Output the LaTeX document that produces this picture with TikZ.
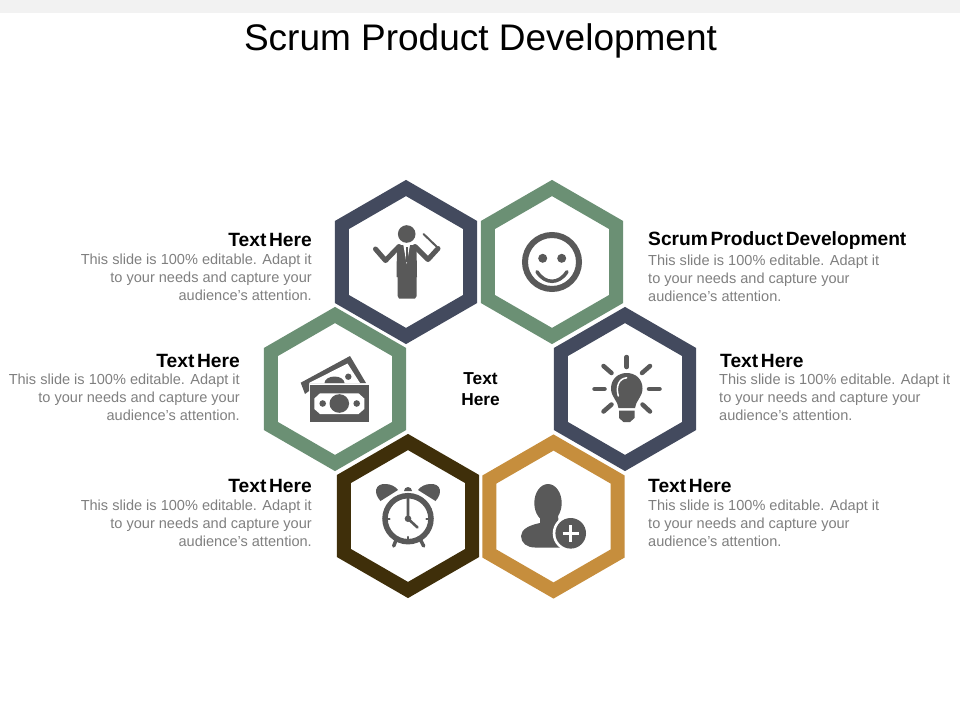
\documentclass[tikz,border=0pt]{standalone}
\usepackage{fontspec}
\setmainfont{Liberation Sans}
\newfontfamily\headfont[WordSpace=0.5]{Liberation Sans}
\usetikzlibrary{shapes.geometric}
\definecolor{navyring}{HTML}{434A5E}
\definecolor{greenring}{HTML}{6B9074}
\definecolor{brownring}{HTML}{3F2F0A}
\definecolor{orangering}{HTML}{C68E3D}
\definecolor{icongray}{HTML}{595959}
\definecolor{bodygray}{HTML}{7F7F7F}
\definecolor{bandgray}{HTML}{F2F2F2}
\tikzset{
  hexring/.style={regular polygon, regular polygon sides=6, shape border rotate=30, minimum size=148pt, inner sep=0pt, outer sep=0pt, line width=14pt, fill=white, draw=#1},
  headtext/.style={font=\headfont\bfseries\fontsize{19.2}{22}\selectfont, inner sep=0pt, text=black},
  bodytext/.style={font=\fontsize{14.55}{18}\selectfont, inner sep=0pt, text=bodygray},
  iconline/.style={draw=icongray, line cap=round, line join=round},
}
\begin{document}
\begin{tikzpicture}[x=1pt,y=-1pt]
\useasboundingbox (0,0) rectangle (960,720);
\fill[bandgray] (0,0) rectangle (960,13);

% Title
\node[font=\fontsize{37}{40}\selectfont, inner sep=0pt] (title) at (480.5,40.5) {Scrum Product Development};

% Hexagon rings
\node[hexring=navyring] (hexperson) at (406,262) {};
\node[hexring=greenring] (hexsmile) at (552,262) {};
\node[hexring=greenring] (hexmoney) at (335,389) {};
\node[hexring=navyring] (hexbulb) at (625,389) {};
\node[hexring=brownring] (hexclock) at (408,516) {};
\node[hexring=orangering] (hexuser) at (553.5,516.5) {};

% Centre label
\node[headtext, font=\bfseries\fontsize{17.3}{21}\selectfont, align=center] (centre) at (480.5,389.5) {Text\\Here};

% Left labels
\node[headtext, anchor=east] (headperson) at (312,239.5) {Text Here};
\node[bodytext, anchor=east, align=right] (bodyperson) at (312,277) {This slide is 100\% editable. Adapt it\\to your needs and capture your\\audience's attention.};
\node[headtext, anchor=east] (headmoney) at (240,360.5) {Text Here};
\node[bodytext, anchor=east, align=right] (bodymoney) at (240,397.5) {This slide is 100\% editable. Adapt it\\to your needs and capture your\\audience's attention.};
\node[headtext, anchor=east] (headclock) at (312,485.5) {Text Here};
\node[bodytext, anchor=east, align=right] (bodyclock) at (312,523) {This slide is 100\% editable. Adapt it\\to your needs and capture your\\audience's attention.};

% Right labels
\node[headtext, anchor=west] (headsmile) at (648,240.5) {Scrum Product Development};
\node[bodytext, anchor=west, align=left] (bodysmile) at (648,278) {This slide is 100\% editable. Adapt it\\to your needs and capture your\\audience's attention.};
\node[headtext, anchor=west] (headbulb) at (720,360.5) {Text Here};
\node[bodytext, anchor=west, align=left] (bodybulb) at (719,397.5) {This slide is 100\% editable. Adapt it\\to your needs and capture your\\audience's attention.};
\node[headtext, anchor=west] (headuser) at (648,485.5) {Text Here};
\node[bodytext, anchor=west, align=left] (bodyuser) at (648,523.5) {This slide is 100\% editable. Adapt it\\to your needs and capture your\\audience's attention.};

% Person with baton
\fill[icongray] (406.7,234) circle (8.8);
\draw[iconline, line width=5pt] (375.5,249) -- (385.5,260.5) -- (399,246.5);
\draw[iconline, line width=5pt] (438,248.5) -- (428,259.5) -- (415,246.5);
\fill[icongray] (397,245) -- (416.5,245) -- (417,277) -- (416.7,277) -- (416.7,296) -- (415,298.5) -- (399,298.5) -- (397.7,296) -- (397.7,277) -- (396.5,277) -- cycle;
\fill[white] (403.3,244.8) -- (410,244.8) -- (406.7,264) -- cycle;
\draw[icongray, line width=1.8pt] (406.7,247) -- (406.7,262);
\draw[iconline, line width=2pt] (423.5,234) -- (436.7,246.7);

% Smiley
\draw[icongray, line width=6pt] (552,262) circle (27);
\fill[icongray] (542.7,258.3) circle (4.5);
\fill[icongray] (561.7,258.3) circle (4.5);
\draw[iconline, line width=3.5pt] (537,271.7) .. controls (545,284.5) and (559,284.5) .. (567,271.7);

% Light bulb
\foreach \xa/\ya/\xb/\yb in {626.7/357/626.7/367, 603.5/366/611.5/373, 650/366/642/373, 594.5/389/604.5/389, 649/389/659.5/389, 603.5/411.5/611.5/404.5, 650/411.5/642.5/404.5}
  \draw[iconline, line width=4.5pt] (\xa,\ya) -- (\xb,\yb);
\fill[icongray] (618.5,408) .. controls (618,401) and (611,397) .. (611,388.5) .. controls (611,379) and (618,373) .. (626.7,373) .. controls (635.5,373) and (642.5,379) .. (642.5,388.5) .. controls (642.5,397) and (635.5,401) .. (635,408) -- cycle;
\draw[white, line width=1.5pt, line cap=round] (618.3,396) .. controls (615.5,386) and (619,378.5) .. (626.7,377.8);
\fill[icongray] (619,410.5) -- (634.5,410.5) -- (634.5,418) -- (630,422) -- (623.5,422) -- (619,418) -- cycle;

% Money
\fill[icongray] (300.7,382.7) -- (350,356) -- (366,383) -- (309,383) -- (309,391) -- (305,394) -- cycle;
\fill[white] (309,383) -- (347.5,363.5) -- (360,383) -- cycle;
\fill[icongray] (324.5,383) arc[start angle=180, end angle=360, x radius=10, y radius=6.5] -- cycle;
\fill[icongray] (348.3,376.7) circle (3.2);
\fill[icongray] (310,385) rectangle (369,421.7);
\fill[white] (320,393.3) -- (358.5,393.3) -- (364.3,398.5) -- (364.3,409) -- (358.5,414) -- (320,414) -- (314.3,409) -- (314.3,398.5) -- cycle;
\fill[icongray] (339.3,403.5) ellipse (9.8 and 9.3);
\fill[icongray] (322.7,403.5) circle (3.3);
\fill[icongray] (356.7,403.5) circle (3.3);

% Alarm clock
\fill[icongray] (380.5,501) .. controls (373,493) and (375,483.5) .. (385.5,484) .. controls (390.5,484) and (395.5,486.5) .. (398,490) -- cycle;
\fill[icongray] (435.5,501) .. controls (443,493) and (441,483.5) .. (430.5,484) .. controls (425.5,484) and (420.5,486.5) .. (418,490) -- cycle;
\fill[icongray] (404,491) arc[start angle=180, end angle=360, radius=4] -- cycle;
\draw[icongray, line width=5.5pt] (408,518.7) circle (23);
\draw[iconline, line width=3.5pt] (396.5,539) -- (393.7,546);
\draw[iconline, line width=3.5pt] (420,539) -- (423.7,546);
\draw[iconline, line width=2.6pt] (408,498.7) -- (408,518.7) -- (417.5,527.5);
\fill[icongray] (408,518.7) circle (3.3);
\draw[iconline, line width=2.4pt] (386,518.7) -- (389.5,518.7);
\draw[iconline, line width=2.4pt] (430,518.7) -- (426.5,518.7);
\draw[iconline, line width=2.4pt] (408,540.5) -- (408,537);

% User with plus sign
\fill[icongray] (548,503) ellipse (13.7 and 19);
\fill[icongray] (540,514) -- (540,523) .. controls (530,525) and (521,529) .. (521,536) .. controls (521,543) and (527,547.5) .. (535,547.5) -- (560,547.5) -- (558,514) -- cycle;
\fill[white] (570.7,533.3) circle (18);
\fill[icongray] (570.7,533.3) circle (15.3);
\draw[white, line width=3.5pt] (562.5,533.3) -- (579,533.3);
\draw[white, line width=3.5pt] (570.7,525) -- (570.7,541.5);

\end{tikzpicture}
\end{document}
